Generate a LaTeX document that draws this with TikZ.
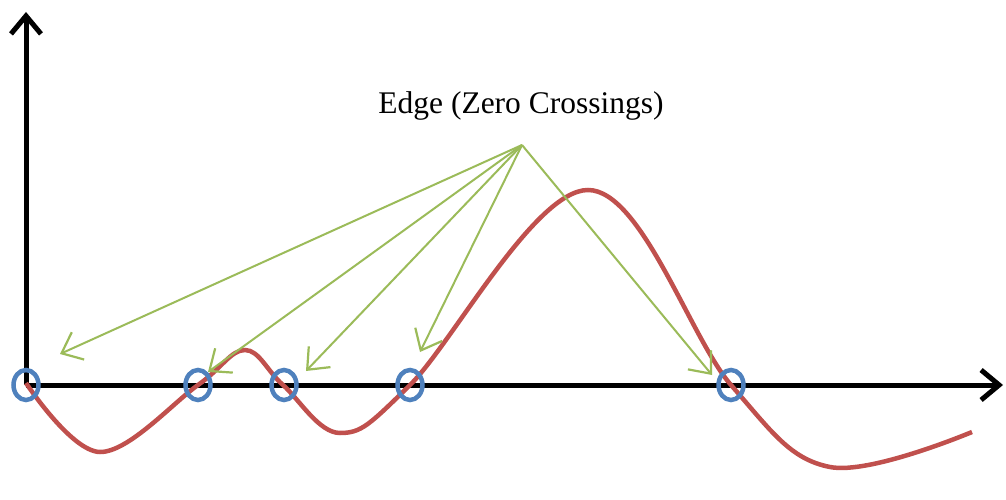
\documentclass[tikz,border=0pt]{standalone}
\usepackage{fontspec}
\setmainfont{Liberation Serif}
\usetikzlibrary{arrows.meta,shapes.geometric}
\definecolor{cred}{HTML}{C0504D}
\definecolor{cblue}{HTML}{4F81BD}
\definecolor{cgreen}{HTML}{9BBB59}
\tikzset{
  axis/.style={line width=5pt, -{Straight Barb[length=18pt,width=30pt,line width=5pt]}},
  zc/.style={draw=cblue, line width=4.5pt, ellipse, minimum width=25pt, minimum height=30pt, inner sep=0pt},
  pointer/.style={draw=cgreen, line width=2pt, -{Straight Barb[length=18pt,width=30pt,line width=2.2pt]}},
  wave/.style={draw=cred, line width=4.5pt}
}
\begin{document}
\begin{tikzpicture}[x=1pt,y=-1pt]
\useasboundingbox (0,0) rectangle (1006,500);
\coordinate (o) at (26,385);
\coordinate (ytop) at (26,12);
\coordinate (xend) at (1003,385);
\draw[axis] (o) -- (ytop);
\draw[axis] (o) -- (xend);
\draw[wave] plot[smooth, tension=0.6] coordinates {(26,383) (100,452) (198,385) (245,350) (283,385) (340,433) (410,385) (588,190) (731,385) (830,467) (972,432)};
\foreach \n/\x in {c1/26, c2/198, c3/284, c4/410, c5/731} {
  \node[zc] (\n) at (\x,385) {};
}
\node (lbl) at (521,106) {\fontsize{31.5}{36}\selectfont Edge (Zero Crossings)};
\coordinate (src) at (522,145);
\coordinate (t1) at (60,354);
\coordinate (t2) at (208,372);
\coordinate (t3) at (306,371);
\coordinate (t4) at (420,352);
\coordinate (t5) at (712,375);
\foreach \t in {t1,t2,t3,t4,t5} { \draw[pointer] (src) -- (\t); }
\end{tikzpicture}
\end{document}
